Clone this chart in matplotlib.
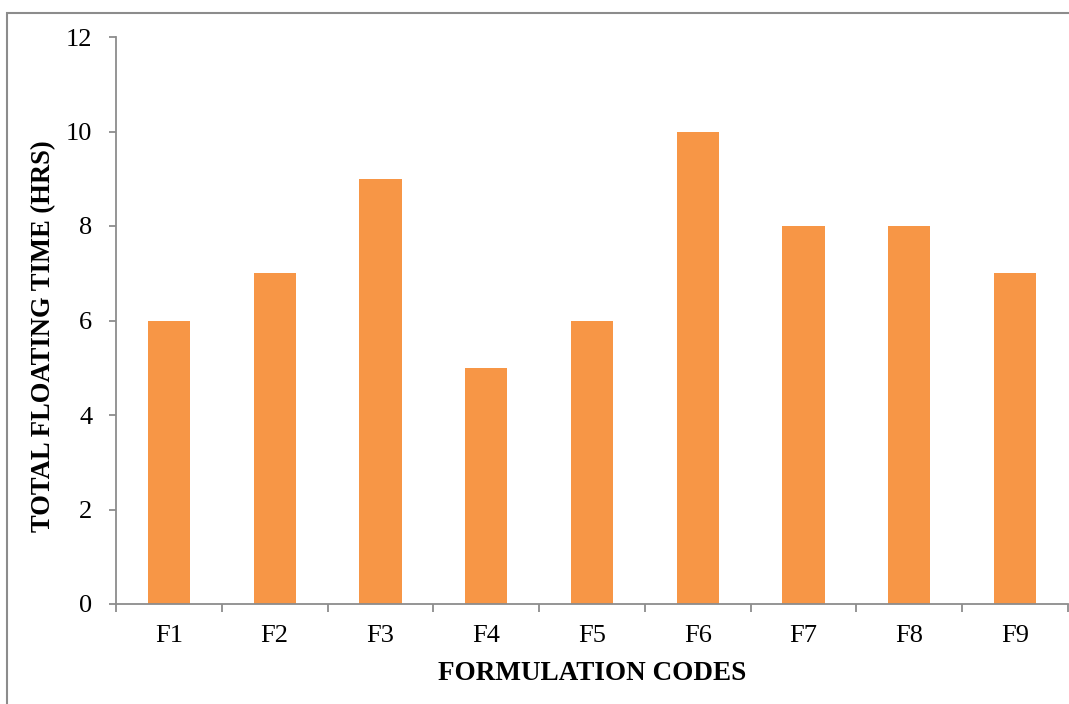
import numpy as np
import matplotlib; matplotlib.use("Agg")
import matplotlib.pyplot as plt
from matplotlib.patches import Rectangle

codes = ["F1", "F2", "F3", "F4", "F5", "F6", "F7", "F8", "F9"]
float_hrs = [6, 7, 9, 5, 6, 10, 8, 8, 7]

plt.rcParams["font.family"] = ["Liberation Serif", "DejaVu Serif"]

fig = plt.figure(figsize=(10.69, 7.04), dpi=100)
ax = fig.add_axes([116 / 1069, 1 - 604 / 704, (1068 - 116) / 1069, (604 - 37) / 704])

x = np.arange(len(codes))
ax.bar(x, float_hrs, width=0.4, color="#F79646", zorder=2)

ax.set_xlim(-0.5, len(codes) - 0.5)
ax.set_ylim(0, 12)
ax.set_yticks(range(0, 13, 2))
ax.set_xticks(x)
ax.set_xticklabels(codes)
ax.set_xticks(np.arange(-0.5, len(codes), 1), minor=True)
ax.tick_params(axis="x", which="major", length=0, pad=15, labelsize=19)
ax.tick_params(axis="x", which="minor", length=6, width=1.3, color="#8c8c8c")
ax.tick_params(axis="y", length=5, width=1.3, color="#8c8c8c", pad=12, labelsize=19)

for s in ["top", "right"]:
    ax.spines[s].set_visible(False)
for s in ["left", "bottom"]:
    ax.spines[s].set_color("#8c8c8c")
    ax.spines[s].set_linewidth(1.3)

ax.set_xlabel("FORMULATION CODES", fontsize=19.5, fontweight="bold")
ax.set_ylabel("TOTAL FLOATING TIME (HRS)", fontsize=19.2, fontweight="bold")
ax.xaxis.set_label_coords(0.5, -(673 - 604) / 567, transform=ax.transAxes)
ax.yaxis.set_label_coords(-(116 - 44) / 952, 0.5 - 16 / 567, transform=ax.transAxes)
ax.xaxis.label.set_va("center")
ax.yaxis.label.set_va("center")

# outer chart border
fig.patches.append(Rectangle((7, -20), 1100, 704 - 13 + 20, transform=None,
                             fill=False, edgecolor="#8c8c8c", linewidth=1.5))

fig.savefig("out.png", dpi=100)
